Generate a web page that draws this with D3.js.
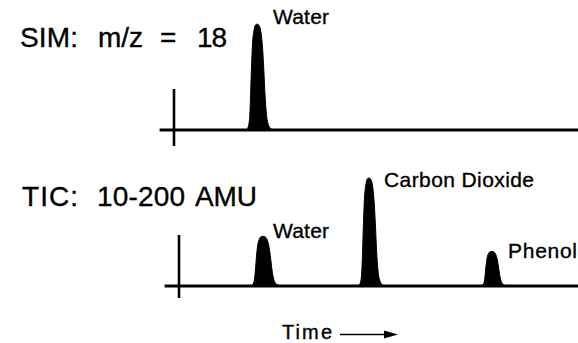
<!DOCTYPE html>
<html>
<head>
<meta charset="utf-8">
<script src="https://cdn.jsdelivr.net/npm/d3@7/dist/d3.min.js"></script>
<style>
  html, body { margin: 0; padding: 0; background: #fff; }
  svg { display: block; }
  text { font-family: "Liberation Sans", Arial, Helvetica, sans-serif; fill: #000; stroke: #000; stroke-width: 0.35px; }
</style>
</head>
<body>
<svg id="chart" width="578" height="343"></svg>
<script>
// Chromatogram peaks: retention time (arbitrary time units), relative intensity, peak width
const simPeaks   = ["Water"];
const simTimes   = [20.8];
const simHeights = [98];
const simWidths  = [1.4];

const ticPeaks   = ["Water", "Carbon Dioxide", "Phenol"];
const ticTimes   = [21.0, 47.5, 78.2];
const ticHeights = [46, 100, 32];
const ticWidths  = [1.6, 1.35, 1.4];

// Normalised tailing peak profile: [offset in widths, fraction of apex height]
const peakShape = [
  [-1.9, 0], [-1.6, 0.03], [-1.35, 0.12], [-1.2, 0.3], [-1.05, 0.55],
  [-0.85, 0.8], [-0.55, 0.95], [-0.25, 0.995], [0, 1], [0.3, 0.99],
  [0.65, 0.93], [0.95, 0.78], [1.2, 0.55], [1.4, 0.33], [1.65, 0.15],
  [2.0, 0.05], [2.5, 0.01], [3.0, 0]
];

const svg = d3.select("#chart");

// Shared scales: time along x, intensity upward from each baseline
const x = d3.scaleLinear().domain([0, 100]).range([0, 400]);
const y = d3.scaleLinear().domain([0, 100]).range([0, -108]);

const area = d3.area()
  .x(d => x(d[0]))
  .y0(0)
  .y1(d => y(d[1]))
  .curve(d3.curveMonotoneX);

function peakPoints(t, h, w) {
  return peakShape.map(([o, f]) => [t + o * w, h * f]);
}

function drawPanel(originX, baselineY, names, times, heights, widths, tickTop, tickBottom) {
  const g = svg.append("g").attr("transform", `translate(${originX},${baselineY})`);

  // time axis (baseline)
  g.append("line")
    .attr("x1", x(-3.6)).attr("x2", x(101.5))
    .attr("y1", 0).attr("y2", 0)
    .attr("stroke", "#000").attr("stroke-width", 3);

  // intensity axis stub at time zero
  g.append("line")
    .attr("x1", x(0)).attr("x2", x(0))
    .attr("y1", tickTop).attr("y2", tickBottom)
    .attr("stroke", "#000").attr("stroke-width", 2.6);

  names.forEach((n, i) => {
    g.append("path")
      .attr("d", area(peakPoints(times[i], heights[i], widths[i])))
      .attr("fill", "#000")
      .attr("stroke", "#000")
      .attr("stroke-width", 1);
  });
  return g;
}

const simPanel = drawPanel(174, 130, simPeaks, simTimes, simHeights, simWidths, -41, 16);
const ticPanel = drawPanel(179, 286, ticPeaks, ticTimes, ticHeights, ticWidths, -51, 12);

function label(g, str, px, py, size, len) {
  g.append("text")
    .attr("x", px).attr("y", py)
    .attr("font-size", size)
    .attr("textLength", len)
    .attr("lengthAdjust", "spacing")
    .text(str);
}

// Panel titles
label(svg, "SIM:", 20, 47, 28, 58);
label(svg, "m/z", 98, 47, 28, 45);
label(svg, "=", 160, 47, 28, 15);
label(svg, "18", 197, 47, 28, 30);

label(svg, "TIC:", 22, 206, 28, 56);
label(svg, "10-200", 97, 206, 28, 88);
label(svg, "AMU", 195, 206, 28, 62);

// Peak labels
label(svg, "Water", 273, 24, 21, 56);
label(svg, "Water", 273, 238, 21, 56);
label(svg, "Carbon Dioxide", 384, 187, 21, 150);
label(svg, "Phenol", 508, 258, 21, 69);

// Time arrow
label(svg, "Time", 282, 339, 20, 50);
svg.append("line")
  .attr("x1", 340).attr("x2", 388)
  .attr("y1", 334.5).attr("y2", 334.5)
  .attr("stroke", "#000").attr("stroke-width", 1.5);
svg.append("path")
  .attr("d", "M384,330.5 L398,334.5 L384,338.5 Z")
  .attr("fill", "#000");
</script>
</body>
</html>
